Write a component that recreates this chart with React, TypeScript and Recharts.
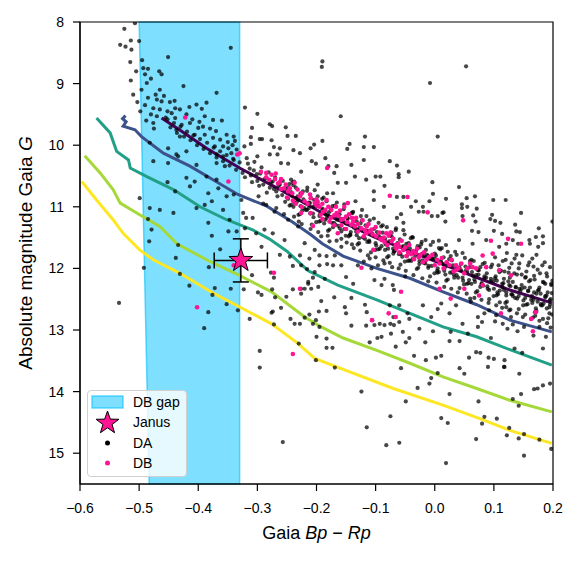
import { ComposedChart, Scatter, Line, XAxis, YAxis, ReferenceArea, ErrorBar } from 'recharts';

const FONT = '"Liberation Sans", Arial, sans-serif';

const xTicks = [-0.6, -0.5, -0.4, -0.3, -0.2, -0.1, 0.0, 0.1, 0.2];
const yTicks = [8, 9, 10, 11, 12, 13, 14, 15];

// DB gap region (colour limits at top and bottom of the plot)
const gapLeftTop = -0.5;
const gapLeftBottom = -0.483;
const gapRight = -0.33;

// cooling tracks [Bp-Rp, G]
const trackPurple = [[-0.462, 9.56], [-0.43, 9.76], [-0.386, 10.05], [-0.33, 10.37], [-0.26, 10.73], [-0.194, 11.08], [-0.1, 11.5], [-0.03, 11.77], [0.031, 12.0], [0.08, 12.18], [0.127, 12.35], [0.198, 12.56]];
const trackBlue = [[-0.523, 9.52], [-0.528, 9.57], [-0.522, 9.62], [-0.527, 9.69], [-0.507, 9.75], [-0.496, 9.86], [-0.459, 10.13], [-0.414, 10.34], [-0.375, 10.56], [-0.333, 10.8], [-0.284, 10.99], [-0.24, 11.25], [-0.21, 11.45], [-0.19, 11.6], [-0.155, 11.8], [-0.098, 12.0], [-0.042, 12.16], [0.014, 12.38], [0.071, 12.59], [0.127, 12.84], [0.198, 13.03]];
const trackTeal = [[-0.572, 9.56], [-0.549, 9.8], [-0.538, 10.1], [-0.518, 10.24], [-0.515, 10.37], [-0.487, 10.51], [-0.442, 10.72], [-0.397, 11.0], [-0.352, 11.21], [-0.307, 11.38], [-0.28, 11.52], [-0.25, 11.72], [-0.214, 12.04], [-0.164, 12.27], [-0.098, 12.51], [-0.042, 12.73], [0.014, 12.95], [0.071, 13.11], [0.127, 13.32], [0.198, 13.57]];
const trackLime = [[-0.592, 10.17], [-0.566, 10.45], [-0.544, 10.72], [-0.532, 10.94], [-0.504, 11.1], [-0.465, 11.32], [-0.436, 11.6], [-0.386, 11.86], [-0.333, 12.1], [-0.276, 12.38], [-0.22, 12.79], [-0.192, 12.95], [-0.155, 13.13], [-0.098, 13.33], [-0.042, 13.54], [0.014, 13.76], [0.071, 13.95], [0.127, 14.14], [0.198, 14.33]];
const trackYellow = [[-0.597, 10.59], [-0.572, 10.89], [-0.544, 11.21], [-0.527, 11.43], [-0.499, 11.7], [-0.476, 11.86], [-0.431, 12.08], [-0.375, 12.4], [-0.329, 12.63], [-0.276, 12.9], [-0.231, 13.22], [-0.203, 13.46], [-0.166, 13.6], [-0.07, 13.95], [0.014, 14.22], [0.082, 14.46], [0.127, 14.63], [0.198, 14.84]];

const daPoints = [
  [-0.525, 8.11], [-0.507, 8.02], [-0.514, 8.3], [-0.532, 8.37], [-0.523, 8.4], [-0.513, 8.45], [-0.5, 8.31], [-0.515, 8.65], [-0.495, 8.62], [-0.493, 8.75], [-0.485, 8.76], [-0.505, 8.8], [-0.49, 8.85], [-0.48, 8.92], [-0.487, 8.99], [-0.514, 8.95], [-0.466, 8.8], [-0.462, 8.85], [-0.451, 8.57], [-0.496, 9.1], [-0.425, 9.04], [-0.345, 8.42], [-0.51, 9.18], [-0.485, 9.23], [-0.465, 9.1], [-0.47, 9.26], [-0.462, 9.29], [-0.448, 9.3], [-0.476, 9.4], [-0.465, 9.42], [-0.452, 9.45], [-0.439, 9.4], [-0.431, 9.42], [-0.47, 9.53], [-0.403, 9.34], [-0.386, 9.31], [-0.394, 9.41], [-0.369, 9.15], [-0.476, 9.64], [-0.475, 9.73], [-0.439, 9.56], [-0.428, 9.67], [-0.437, 9.75], [-0.414, 9.64], [-0.4, 9.72], [-0.389, 9.53], [-0.375, 9.59], [-0.431, 9.86], [-0.406, 9.83], [-0.389, 9.83], [-0.375, 9.88], [-0.363, 9.91], [-0.352, 9.83], [-0.34, 9.86], [-0.372, 10.02], [-0.358, 10.02], [-0.349, 10.05], [-0.335, 10.07], [-0.369, 10.15], [-0.358, 10.18], [-0.344, 10.13], [-0.34, 10.24], [-0.369, 10.29], [-0.355, 10.34], [-0.482, 9.96], [-0.451, 10.05], [-0.437, 10.15], [-0.42, 10.1], [-0.434, 10.18], [-0.403, 10.32], [-0.476, 10.26], [-0.451, 10.29], [-0.42, 10.53], [-0.406, 10.59], [-0.414, 10.67], [-0.386, 10.51], [-0.369, 10.56], [-0.452, 10.6], [-0.439, 10.75], [-0.383, 10.78], [-0.366, 10.7], [-0.352, 10.83], [-0.34, 10.8], [-0.499, 10.86], [-0.403, 11.02], [-0.389, 10.97], [-0.377, 10.91], [-0.482, 11.02], [-0.465, 11.05], [-0.442, 11.1], [-0.358, 11.05], [-0.485, 11.2], [-0.383, 11.26], [-0.347, 11.21], [-0.479, 11.37], [-0.377, 11.47], [-0.349, 11.4], [-0.335, 11.4], [-0.483, 11.56], [-0.434, 11.62], [-0.363, 11.69],
  [-0.49, 9.35], [-0.48, 9.5], [-0.472, 9.18], [-0.458, 9.2], [-0.455, 9.55], [-0.445, 9.48], [-0.44, 9.28], [-0.42, 9.5], [-0.415, 9.38], [-0.41, 9.58], [-0.398, 9.62], [-0.392, 9.7], [-0.38, 9.73], [-0.37, 9.77], [-0.36, 9.6], [-0.35, 9.95], [-0.342, 10.0], [-0.338, 9.93], [-0.498, 9.45], [-0.503, 9.3], [-0.488, 9.6],
  [-0.438, 11.83], [-0.492, 11.99], [-0.382, 11.98], [-0.431, 12.09], [-0.415, 12.28], [-0.372, 12.32], [-0.345, 12.33], [-0.534, 12.56], [-0.376, 12.43], [-0.352, 12.58], [-0.383, 12.71], [-0.39, 12.97],
  [-0.19, 8.64], [-0.191, 8.73], [-0.321, 9.39], [-0.159, 9.53], [-0.3, 9.49], [-0.309, 9.72], [-0.279, 9.66], [-0.275, 9.69], [-0.252, 9.71], [-0.311, 9.87], [-0.296, 9.9], [-0.292, 9.9], [-0.276, 9.92], [-0.249, 9.85], [-0.235, 9.85], [-0.19, 9.93], [-0.118, 9.86], [-0.311, 9.98], [-0.322, 10.02], [-0.272, 10.03], [-0.262, 10.05], [-0.239, 10.08], [-0.21, 10.05], [-0.204, 9.99], [-0.148, 10.06], [-0.144, 9.98], [-0.12, 10.03], [-0.103, 10.03], [-0.3, 10.18], [-0.279, 10.15], [-0.266, 10.15], [-0.228, 10.13], [-0.185, 10.21], [-0.208, 10.26], [-0.201, 10.3], [-0.18, 10.34], [-0.166, 10.34], [-0.141, 10.32], [-0.12, 10.24], [-0.076, 10.26], [-0.248, 10.3], [-0.26, 10.29], [-0.226, 10.43], [-0.17, 10.45], [-0.1, 10.51], [-0.092, 10.51], [-0.135, 10.51], [-0.198, 10.64], [-0.164, 10.61], [-0.15, 10.61], [-0.116, 10.56], [-0.085, 10.66], [-0.239, 10.65], [-0.182, 10.78], [-0.172, 10.78], [-0.103, 10.75], [-0.103, 10.89], [-0.134, 10.91], [-0.123, 11.05], [-0.086, 11.0], [-0.243, 10.56], [-0.204, 10.89],
  [-0.327, 10.89], [-0.324, 11.1], [-0.319, 11.18], [-0.308, 11.18], [-0.321, 11.35], [-0.302, 11.43], [-0.288, 11.37], [-0.274, 11.43], [-0.254, 11.54], [-0.231, 11.32], [-0.248, 11.21], [-0.285, 10.97], [-0.271, 11.08], [-0.298, 10.83], [-0.293, 11.65], [-0.22, 11.59], [-0.203, 11.7], [-0.192, 11.48], [-0.178, 11.56], [-0.158, 11.65],
  [0.053, 8.72], [-0.008, 8.99], [0.005, 9.86], [-0.064, 10.33], [-0.061, 10.47], [-0.061, 10.52], [-0.044, 10.43], [-0.004, 10.6], [0.041, 10.68], [-0.003, 10.79], [-0.064, 10.84], [-0.053, 10.84], [-0.032, 10.91], [-0.04, 11.0], [-0.02, 11.0], [-0.009, 10.91], [-0.027, 11.08], [-0.019, 11.08], [-0.005, 11.15], [0.005, 11.15], [0.013, 11.1], [0.018, 11.24], [-0.057, 11.12], [-0.064, 11.18], [-0.053, 11.26], [0.046, 10.96], [0.046, 11.02], [0.054, 10.86], [0.055, 11.0], [0.068, 10.83], [0.071, 11.03], [0.065, 11.14], [0.069, 11.24], [0.047, 11.15], [0.063, 11.39], [0.074, 11.41], [0.099, 10.89], [0.12, 10.89], [0.097, 11.13], [0.094, 11.2], [0.102, 11.23], [0.111, 11.26], [0.1, 11.39], [0.114, 11.44], [0.136, 11.29], [0.146, 11.1], [0.138, 11.4], [0.144, 11.41], [0.176, 11.35], [0.171, 11.49], [0.183, 11.48], [0.132, 11.54], [0.141, 11.6], [0.16, 11.54], [0.161, 11.6], [0.175, 11.65], [0.183, 11.59], [0.087, 11.54], [0.121, 11.6], [0.109, 11.65], [0.041, 11.54], [0.064, 11.6], [0.007, 11.55], [0.019, 11.62], [0.199, 11.24], [0.019, 10.87], [0.015, 11.09],
  [-0.333, 12.68], [-0.323, 12.34], [-0.309, 12.11], [-0.299, 12.39], [-0.293, 12.43], [-0.313, 12.82], [-0.277, 12.07], [-0.272, 12.15], [-0.275, 12.34], [-0.27, 12.47], [-0.274, 12.7], [-0.276, 12.72], [-0.272, 12.91], [-0.26, 12.64], [-0.296, 13.34], [-0.296, 13.61], [-0.257, 14.82], [-0.24, 12.34], [-0.244, 12.82], [-0.237, 12.9], [-0.228, 12.9], [-0.226, 12.33], [-0.22, 12.33], [-0.226, 12.41], [-0.214, 12.25], [-0.209, 12.33], [-0.212, 12.75], [-0.22, 12.8], [-0.206, 12.9], [-0.201, 12.84], [-0.195, 12.95], [-0.23, 13.22], [-0.2, 13.11], [-0.201, 13.49], [-0.183, 13.14], [-0.183, 13.29], [-0.173, 13.29], [-0.169, 13.61], [-0.196, 12.7], [-0.183, 12.69], [-0.17, 12.47], [-0.192, 12.53], [-0.197, 12.3], [-0.206, 12.15], [-0.214, 12.22], [-0.186, 12.17], [-0.172, 11.95], [-0.182, 11.93], [-0.195, 11.95], [-0.203, 12.06], [-0.216, 12.01], [-0.226, 11.95], [-0.24, 11.96], [-0.245, 11.81], [-0.262, 11.78], [-0.228, 11.79], [-0.212, 11.84], [-0.195, 11.79], [-0.183, 11.8], [-0.169, 11.79], [-0.158, 11.95], [-0.15, 12.14], [-0.138, 12.25], [-0.141, 12.48], [-0.152, 12.63], [-0.15, 12.73], [-0.141, 12.93], [-0.118, 12.59], [-0.115, 12.71], [-0.116, 12.93], [-0.11, 13.2], [-0.106, 12.84], [-0.102, 12.92], [-0.093, 12.9], [-0.085, 12.92], [-0.075, 12.9], [-0.069, 12.92], [-0.076, 12.6], [-0.07, 12.79], [-0.09, 13.11], [-0.097, 13.13], [-0.074, 13.06], [-0.124, 14.0], [-0.115, 14.58], [-0.075, 14.4], [-0.082, 14.87], [-0.085, 12.17], [-0.09, 12.27], [-0.102, 12.19], [-0.107, 12.0], [-0.13, 11.95], [-0.12, 11.89], [-0.11, 11.84], [-0.096, 11.95], [-0.085, 11.92], [-0.072, 11.98], [-0.071, 12.27], [-0.069, 12.35], [-0.251, 12.46],
  [-0.06, 14.83], [0.019, 15.16], [0.011, 14.43], [0.022, 14.51], [0.07, 14.77], [0.08, 14.52], [0.084, 14.41], [0.105, 14.44], [0.126, 14.59], [0.122, 14.71], [0.142, 14.76], [0.151, 14.69], [0.151, 15.04], [0.177, 14.78], [0.197, 14.93], [0.074, 14.16], [0.132, 14.12], [0.146, 14.04], [0.168, 13.96], [0.174, 13.95], [0.183, 13.9], [0.195, 13.87], [0.142, 14.23], [0.025, 14.04], [-0.006, 13.78], [-0.009, 13.87], [-0.029, 13.94], [-0.049, 14.16], [0.005, 13.7], [0.042, 13.62], [0.05, 13.71], [0.09, 13.6], [0.118, 13.6], [0.143, 13.71], [-0.057, 13.62], [-0.035, 13.42], [-0.015, 13.49], [0.002, 13.45], [0.011, 13.42], [0.025, 13.18], [0.058, 13.45], [0.07, 13.36], [0.077, 13.37], [0.091, 13.45], [0.1, 13.47], [0.117, 13.6], [0.118, 13.49], [0.135, 13.3], [0.148, 13.37], [0.183, 13.3], [0.188, 13.11], [-0.066, 13.27], [-0.049, 13.2], [-0.043, 13.13], [-0.016, 13.2], [-0.003, 13.02], [0.042, 13.18], [0.027, 13.03], [0.047, 12.9], [0.056, 13.06], [0.073, 12.95], [0.08, 12.87], [0.095, 13.13], [0.115, 12.9], [0.123, 12.98], [0.132, 12.91], [0.102, 12.86], [0.14, 13.02], [0.151, 12.95], [0.167, 13.09], [0.177, 12.95], [-0.06, 12.87], [-0.043, 12.82], [-0.054, 13.03], [-0.026, 12.98], [-0.06, 12.6], [-0.046, 12.73], [-0.02, 12.6], [-0.006, 12.79], [0.005, 12.66], [0.025, 12.73], [0.011, 12.57], [0.036, 12.6], [0.061, 12.54], [0.073, 12.79], [0.084, 12.73], [0.092, 12.68], [0.104, 12.76], [0.121, 12.63], [0.129, 12.79], [0.126, 12.68], [0.149, 12.79], [0.171, 12.65], [0.183, 12.82], [0.194, 12.73],
];

// the crowded DA sequence along the top cooling track
const daBand = [
  [-0.318, 10.21], [-0.313, 10.38], [-0.321, 10.52], [-0.309, 10.6], [-0.305, 10.27], [-0.301, 10.47], [-0.297, 10.66], [-0.293, 10.36], [-0.288, 10.55], [-0.284, 10.77], [-0.281, 10.44], [-0.277, 10.6], [-0.272, 10.71], [-0.27, 10.52], [-0.266, 10.83], [-0.262, 10.64], [-0.257, 10.58], [-0.253, 10.92], [-0.25, 10.75], [-0.246, 10.63], [-0.242, 10.82], [-0.239, 11.0], [-0.235, 10.69], [-0.231, 10.88], [-0.227, 10.78], [-0.224, 11.06], [-0.22, 10.93], [-0.216, 10.74], [-0.213, 11.02], [-0.209, 10.86], [-0.205, 11.17], [-0.202, 10.97], [-0.198, 10.83], [-0.194, 11.12], [-0.19, 11.03], [-0.187, 11.27], [-0.183, 10.91], [-0.18, 11.15], [-0.176, 11.06], [-0.172, 11.33], [-0.169, 10.98], [-0.165, 11.21], [-0.161, 11.12], [-0.158, 11.4], [-0.154, 11.04], [-0.15, 11.27], [-0.147, 11.19], [-0.143, 11.45], [-0.139, 11.1], [-0.136, 11.34], [-0.132, 11.24], [-0.128, 11.51], [-0.125, 11.15], [-0.121, 11.38], [-0.117, 11.3], [-0.114, 11.57], [-0.11, 11.22], [-0.106, 11.45], [-0.103, 11.36], [-0.099, 11.63], [-0.095, 11.26], [-0.092, 11.5], [-0.088, 11.42], [-0.084, 11.7], [-0.081, 11.33], [-0.077, 11.56], [-0.073, 11.48], [-0.07, 11.76], [-0.066, 11.38], [-0.062, 11.61], [-0.059, 11.53], [-0.055, 11.81], [-0.051, 11.45], [-0.048, 11.66], [-0.044, 11.59], [-0.04, 11.88], [-0.037, 11.5], [-0.033, 11.73], [-0.029, 11.64], [-0.026, 11.93], [-0.022, 11.57], [-0.018, 11.79], [-0.015, 11.7], [-0.011, 11.99], [-0.007, 11.62], [-0.004, 11.84], [0.0, 11.76], [0.004, 12.04], [0.007, 11.67], [0.011, 11.9], [0.015, 11.82], [0.018, 12.1], [0.022, 11.73], [0.026, 11.96], [0.029, 11.87], [0.033, 12.15], [0.037, 11.78], [0.04, 12.01], [0.044, 11.93], [0.048, 12.2], [0.051, 11.83], [0.055, 12.06], [0.059, 11.98], [0.062, 12.25], [0.066, 11.88], [0.07, 12.11], [0.073, 12.03], [0.077, 12.3], [0.081, 11.93], [0.084, 12.16], [0.088, 12.08], [0.092, 12.35], [0.095, 11.98], [0.099, 12.21], [0.103, 12.13], [0.106, 12.39], [0.11, 12.03], [0.114, 12.25], [0.117, 12.17], [0.121, 12.44], [0.125, 12.07], [0.128, 12.29], [0.132, 12.22], [0.136, 12.48], [0.139, 12.1], [0.143, 12.33], [0.147, 12.27], [0.15, 12.52], [0.154, 12.14], [0.158, 12.37], [0.161, 12.31], [0.165, 12.56], [0.169, 12.18], [0.172, 12.41], [0.176, 12.35], [0.18, 12.6], [0.183, 12.22], [0.187, 12.45], [0.191, 12.39], [0.194, 12.63], [0.197, 12.27], [0.196, 12.5], [0.189, 12.08], [0.174, 12.02], [0.158, 11.95], [0.143, 11.92], [0.186, 11.9], [0.165, 11.84], [0.12, 11.86], [0.138, 11.78],
  [-0.452, 9.58], [-0.447, 9.71], [-0.441, 9.64], [-0.436, 9.8], [-0.43, 9.7], [-0.424, 9.86], [-0.419, 9.78], [-0.413, 9.92], [-0.408, 9.84], [-0.402, 10.0], [-0.397, 9.9], [-0.391, 10.06], [-0.385, 9.96], [-0.38, 10.13], [-0.374, 10.04], [-0.369, 10.2], [-0.363, 10.1], [-0.358, 10.26], [-0.352, 10.16], [-0.347, 10.33], [-0.341, 10.22], [-0.336, 10.4], [-0.33, 10.28], [-0.325, 10.45],
  [-0.316, 10.3], [-0.311, 10.49], [-0.306, 10.41], [-0.3, 10.58], [-0.295, 10.46], [-0.29, 10.64], [-0.285, 10.53], [-0.279, 10.69], [-0.274, 10.59], [-0.268, 10.75], [-0.264, 10.66], [-0.258, 10.81], [-0.253, 10.7], [-0.248, 10.87], [-0.243, 10.76], [-0.237, 10.94], [-0.232, 10.83], [-0.227, 10.99], [-0.222, 10.88], [-0.216, 11.05], [-0.211, 10.94], [-0.206, 11.11], [-0.2, 10.99], [-0.195, 11.15], [-0.19, 11.05], [-0.185, 11.21], [-0.179, 11.09], [-0.174, 11.26], [-0.169, 11.15], [-0.163, 11.31], [-0.158, 11.2], [-0.153, 11.36], [-0.148, 11.24], [-0.142, 11.41], [-0.137, 11.3], [-0.132, 11.46], [-0.127, 11.34], [-0.121, 11.5], [-0.116, 11.39], [-0.111, 11.55], [-0.106, 11.43], [-0.1, 11.59], [-0.095, 11.47], [-0.09, 11.64], [-0.084, 11.52], [-0.079, 11.68], [-0.074, 11.56], [-0.069, 11.72], [-0.063, 11.6], [-0.058, 11.76], [-0.053, 11.64], [-0.047, 11.8], [-0.042, 11.68], [-0.037, 11.84], [-0.032, 11.72], [-0.026, 11.88], [-0.021, 11.76], [-0.016, 11.92], [-0.011, 11.8], [-0.005, 11.96], [0.0, 11.84], [0.005, 12.0], [0.01, 11.88], [0.016, 12.04], [0.021, 11.92], [0.026, 12.07], [0.031, 11.95], [0.037, 12.11], [0.042, 11.99], [0.047, 12.15], [0.053, 12.03], [0.058, 12.19], [0.063, 12.06], [0.068, 12.22], [0.074, 12.1], [0.079, 12.26], [0.084, 12.13], [0.089, 12.29], [0.095, 12.17], [0.1, 12.33], [0.105, 12.2], [0.11, 12.36], [0.116, 12.24], [0.121, 12.39], [0.126, 12.27], [0.131, 12.42], [0.137, 12.3], [0.142, 12.45], [0.147, 12.33], [0.153, 12.48], [0.158, 12.36], [0.163, 12.51], [0.168, 12.39], [0.174, 12.54], [0.179, 12.41], [0.184, 12.57], [0.189, 12.44], [0.195, 12.59], [0.198, 12.4],
  [0.102, 11.82], [0.108, 11.95], [0.115, 11.88], [0.122, 11.75], [0.13, 11.92], [0.135, 11.84], [0.142, 12.0], [0.148, 11.79], [0.155, 12.05], [0.16, 11.9], [0.167, 11.97], [0.172, 11.78], [0.178, 12.08], [0.182, 11.95], [0.19, 12.13], [0.195, 11.98], [0.199, 12.2], [0.187, 12.25], [0.153, 12.15], [0.118, 12.05], [0.126, 11.99], [0.168, 12.12],
  [-0.29, 10.95], [-0.268, 11.02], [-0.255, 11.12], [-0.238, 11.16], [-0.225, 11.28], [-0.21, 11.36], [-0.197, 11.41], [-0.181, 11.47], [-0.166, 11.55], [-0.149, 11.58], [-0.137, 11.67], [-0.126, 11.71], [-0.113, 11.79], [-0.1, 11.82], [-0.087, 11.87], [-0.076, 11.91], [-0.061, 12.0], [-0.049, 12.04], [-0.036, 12.11], [-0.021, 12.16], [-0.011, 12.21], [0.003, 12.23], [0.016, 12.3], [0.028, 12.33], [0.039, 12.39], [0.054, 12.41], [0.067, 12.48], [0.079, 12.51], [0.091, 12.56], [0.104, 12.6], [0.114, 12.64], [0.128, 12.67], [0.139, 12.73], [0.153, 12.75], [0.166, 12.8], [0.177, 12.85], [0.19, 12.89], [0.196, 12.96], [-0.05, 12.13], [0.06, 12.49], [0.11, 12.55], [0.17, 12.77], [-0.14, 11.61], [-0.23, 11.24],
];

// more of the same sequence, where the reference is almost solid black
const daBandCore = [
  [-0.248, 10.69], [-0.243, 10.97], [-0.238, 10.59], [-0.233, 10.92], [-0.228, 11.12], [-0.223, 10.75], [-0.218, 11.05], [-0.213, 10.93], [-0.208, 11.29], [-0.203, 10.73], [-0.198, 10.96], [-0.193, 11.23], [-0.188, 10.85], [-0.183, 11.18], [-0.178, 11.37], [-0.173, 10.99], [-0.168, 11.29], [-0.163, 11.17], [-0.158, 11.52], [-0.153, 10.96], [-0.148, 11.18], [-0.143, 11.46], [-0.138, 11.08], [-0.133, 11.4], [-0.128, 11.59], [-0.123, 11.22], [-0.118, 11.52], [-0.113, 11.39], [-0.108, 11.74], [-0.103, 11.19], [-0.098, 11.41], [-0.093, 11.68], [-0.088, 11.3], [-0.083, 11.61], [-0.078, 11.8], [-0.073, 11.42], [-0.068, 11.72], [-0.063, 11.59], [-0.058, 11.94], [-0.053, 11.38], [-0.048, 11.6], [-0.043, 11.87], [-0.038, 11.49], [-0.033, 11.8], [-0.028, 11.99], [-0.023, 11.61], [-0.018, 11.91], [-0.013, 11.78], [-0.008, 12.13], [-0.003, 11.57], [0.002, 11.79], [0.007, 12.06], [0.012, 11.67], [0.017, 11.99], [0.022, 12.18], [0.027, 11.8], [0.032, 12.1], [0.037, 11.97], [0.042, 12.32], [0.047, 11.75], [0.052, 11.97], [0.057, 12.24], [0.062, 11.86], [0.067, 12.18], [0.072, 12.37], [0.077, 11.98], [0.082, 12.28], [0.087, 12.15], [0.092, 12.5], [0.097, 11.94], [0.102, 12.16], [0.107, 12.42], [0.112, 12.04], [0.117, 12.35], [0.122, 12.54], [0.127, 12.15], [0.132, 12.45], [0.137, 12.31], [0.142, 12.66], [0.147, 12.1], [0.152, 12.31], [0.157, 12.58], [0.162, 12.19], [0.167, 12.51], [0.172, 12.69], [0.177, 12.31], [0.182, 12.6], [0.187, 12.47], [0.192, 12.81], [0.197, 12.25],
  [-0.2455, 10.98], [-0.2405, 10.61], [-0.2355, 10.86], [-0.2305, 11.13], [-0.2255, 10.79], [-0.2205, 11.02], [-0.2155, 10.69], [-0.2105, 11.11], [-0.2055, 11.0], [-0.2005, 11.25], [-0.1955, 11.24], [-0.1905, 10.87], [-0.1855, 11.12], [-0.1805, 11.39], [-0.1755, 11.04], [-0.1705, 11.26], [-0.1655, 10.93], [-0.1605, 11.35], [-0.1555, 11.23], [-0.1505, 11.47], [-0.1455, 11.48], [-0.1405, 11.1], [-0.1355, 11.34], [-0.1305, 11.61], [-0.1255, 11.27], [-0.1205, 11.49], [-0.1155, 11.15], [-0.1105, 11.57], [-0.1055, 11.46], [-0.1005, 11.7], [-0.0955, 11.69], [-0.0905, 11.32], [-0.0855, 11.55], [-0.0805, 11.82], [-0.0755, 11.47], [-0.0705, 11.68], [-0.0655, 11.35], [-0.0605, 11.77], [-0.0555, 11.65], [-0.0505, 11.89], [-0.0455, 11.88], [-0.0405, 11.51], [-0.0355, 11.75], [-0.0305, 12.01], [-0.0255, 11.66], [-0.0205, 11.87], [-0.0155, 11.54], [-0.0105, 11.96], [-0.0055, 11.84], [-0.0005, 12.08], [0.0045, 12.07], [0.0095, 11.69], [0.0145, 11.93], [0.0195, 12.2], [0.0245, 11.85], [0.0295, 12.06], [0.0345, 11.73], [0.0395, 12.15], [0.0445, 12.03], [0.0495, 12.26], [0.0545, 12.25], [0.0595, 11.88], [0.0645, 12.12], [0.0695, 12.39], [0.0745, 12.03], [0.0795, 12.24], [0.0845, 11.91], [0.0895, 12.33], [0.0945, 12.21], [0.0995, 12.45], [0.1045, 12.44], [0.1095, 12.06], [0.1145, 12.3], [0.1195, 12.56], [0.1245, 12.21], [0.1295, 12.42], [0.1345, 12.08], [0.1395, 12.49], [0.1445, 12.37], [0.1495, 12.6], [0.1545, 12.59], [0.1595, 12.21], [0.1645, 12.45], [0.1695, 12.71], [0.1745, 12.36], [0.1795, 12.58], [0.1845, 12.23], [0.1895, 12.65], [0.1945, 12.52], [0.1985, 12.75],
];

const dbPoints = [
  [-0.422, 9.55], [-0.349, 10.59], [-0.334, 10.15], [-0.402, 12.63], [-0.34, 11.95], [-0.272, 12.07], [-0.228, 12.33], [-0.24, 13.39], [-0.106, 12.84], [-0.078, 12.73], [-0.124, 11.99], [-0.182, 10.37], [-0.076, 10.82], [-0.046, 10.84], [-0.012, 11.09], [0.048, 11.22], [0.095, 11.55], [0.124, 11.52], [0.146, 11.6], [-0.057, 12.38], [0.112, 12.73], [0.163, 12.82], [0.166, 13.02], [0.171, 12.71], [-0.066, 12.79], [0.075, 12.44], [0.027, 12.49], [0.129, 12.11], [0.109, 12.03], [0.081, 12.27], [0.05, 12.33], [0.008, 12.33], [-0.33, 10.13],
  [-0.294, 10.43], [-0.276, 10.48], [-0.269, 10.46], [-0.26, 10.55], [-0.252, 10.64], [-0.245, 10.7], [-0.237, 10.61], [-0.241, 10.78], [-0.228, 10.83], [-0.22, 10.91], [-0.211, 10.8], [-0.203, 10.94], [-0.195, 11.0], [-0.189, 11.08], [-0.183, 10.89], [-0.175, 11.05], [-0.166, 11.1], [-0.158, 11.21], [-0.15, 11.16], [-0.153, 11.0], [-0.147, 10.94], [-0.141, 11.29], [-0.133, 11.18], [-0.124, 11.35], [-0.116, 11.43], [-0.107, 11.37], [-0.099, 11.48], [-0.09, 11.54], [-0.082, 11.43], [-0.073, 11.56], [-0.226, 11.1], [-0.206, 11.31], [-0.178, 11.24], [-0.164, 11.43], [-0.104, 11.7], [-0.26, 10.71],
  [-0.21, 10.86], [-0.2, 10.98], [-0.19, 10.95], [-0.18, 11.0], [-0.17, 11.14], [-0.16, 11.06], [-0.155, 11.2], [-0.145, 11.12], [-0.138, 11.24], [-0.13, 11.28], [-0.122, 11.22], [-0.115, 11.32], [-0.11, 11.4], [-0.1, 11.33], [-0.094, 11.42], [-0.086, 11.5], [-0.078, 11.47], [-0.07, 11.52], [-0.062, 11.6], [-0.056, 11.55], [-0.05, 11.66], [-0.043, 11.62], [-0.037, 11.72], [-0.03, 11.68], [-0.024, 11.78], [-0.018, 11.74], [-0.01, 11.82], [-0.004, 11.78], [0.004, 11.86], [0.012, 11.83], [0.02, 11.9], [0.028, 11.86], [0.036, 11.95], [0.045, 11.92], [-0.06, 11.74], [-0.048, 11.8], [-0.035, 11.85], [-0.02, 11.9], [-0.065, 11.68], [-0.045, 11.74], [0.0, 11.95], [0.015, 12.0], [-0.15, 11.36], [-0.13, 11.4], [-0.17, 11.3], [-0.19, 11.2], [-0.21, 11.1], [-0.235, 10.95], [-0.25, 10.85], [-0.265, 10.62], [-0.28, 10.56], [-0.285, 10.45], [-0.24, 10.9], [-0.12, 11.48], [-0.08, 11.62], [0.032, 12.05], [0.055, 12.0], [0.07, 12.0], [0.064, 11.98], [0.087, 11.98], [0.098, 11.76], [0.081, 11.79], [0.036, 12.03],
  [-0.27, 10.55], [-0.262, 10.6], [-0.255, 10.7], [-0.248, 10.75], [-0.232, 10.72], [-0.225, 10.78], [-0.215, 10.95], [-0.198, 10.92], [-0.185, 11.05], [-0.176, 11.18], [-0.163, 11.15], [-0.148, 11.25], [-0.135, 11.32], [-0.118, 11.38], [-0.105, 11.45], [-0.092, 11.52], [-0.085, 11.57], [-0.066, 11.62], [-0.053, 11.7], [-0.04, 11.77], [-0.027, 11.82], [-0.014, 11.86], [0.008, 11.92], [0.025, 11.95], [0.04, 12.0], [-0.2, 10.88], [-0.167, 11.0], [-0.14, 11.18], [-0.112, 11.28], [-0.075, 11.42], [-0.06, 11.65], [-0.032, 11.75], [0.05, 12.08], [0.06, 11.92], [-0.285, 10.52], [-0.225, 11.0], [-0.193, 11.13], [-0.158, 11.3],
];

const janus = [{ x: -0.328, y: 11.87, ex: 0.045, ey: 0.35 }];

const toXY = (arr: number[][]) => arr.map(([x, y]) => ({ x, y }));

const starPoints = (cx: number, cy: number, R: number, r: number) => {
  const pts: string[] = [];
  for (let i = 0; i < 10; i++) {
    const a = -Math.PI / 2 + (i * Math.PI) / 5;
    const rad = i % 2 === 0 ? R : r;
    pts.push(`${cx + rad * Math.cos(a)},${cy + rad * Math.sin(a)}`);
  }
  return pts.join(' ');
};

const DaDot = (p: any) => <circle cx={p.cx} cy={p.cy} r={2.1} fill="#000" fillOpacity={0.72} />;
const DbDot = (p: any) => <circle cx={p.cx} cy={p.cy} r={2.3} fill="#ff1493" />;
const StarShape = (p: any) => (
  <polygon points={starPoints(p.cx, p.cy, 12.5, 5)} fill="#ff1493" stroke="#000" strokeWidth={1} />
);

const GapShape = (p: any) => {
  const { x, y, width, height } = p;
  const slant = (width * (gapLeftBottom - gapLeftTop)) / (gapRight - gapLeftTop);
  return (
    <polygon
      points={`${x},${y} ${x + width},${y} ${x + width},${y + height} ${x + slant},${y + height}`}
      fill="#00bfff"
      fillOpacity={0.5}
      stroke="#00bfff"
      strokeOpacity={0.6}
      strokeWidth={1.5}
    />
  );
};

const fmt = (v: number) => (v < 0 ? '\u2212' + Math.abs(v).toFixed(1) : v.toFixed(1));

const XLabel = (props: any) => {
  const { x, y, width } = props.viewBox;
  return (
    <text x={x + width / 2} y={y + 55} textAnchor="middle" fontSize={18} fontFamily={FONT} fill="#000">
      Gaia <tspan fontStyle="italic">Bp</tspan> {'\u2212'} <tspan fontStyle="italic">Rp</tspan>
    </text>
  );
};

const YLabel = (props: any) => {
  const { y, height } = props.viewBox;
  const cx = 17;
  const cy = y + height / 2;
  return (
    <text x={cx} y={cy} transform={`rotate(-90 ${cx} ${cy})`} textAnchor="middle" dominantBaseline="central" fontSize={19} fontFamily={FONT} fill="#000">
      Absolute magnitude Gaia <tspan fontStyle="italic">G</tspan>
    </text>
  );
};

const legendRow = (top: number) => ({ position: 'absolute' as const, left: 0, top, width: 100, height: 20, lineHeight: '20px' });

const lineProps = { type: 'linear' as const, strokeWidth: 3, dot: false, activeDot: false, isAnimationActive: false, zIndex: 400 };

export default function App() {
  return (
    <div style={{ position: 'relative', width: 573, height: 553, fontFamily: FONT }}>
      <ComposedChart width={573} height={553} margin={{ top: 14, right: 28, bottom: 17, left: 0 }}>
        <XAxis
          type="number"
          dataKey="x"
          domain={[-0.6, 0.2]}
          ticks={xTicks}
          interval={0}
          allowDataOverflow
          tickFormatter={fmt}
          height={60}
          tickSize={7}
          tickMargin={12}
          axisLine={{ stroke: '#000', strokeWidth: 1.2 }}
          tickLine={{ stroke: '#000', strokeWidth: 1.2 }}
          tick={{ fill: '#000', fontSize: 14, fontFamily: FONT }}
          label={<XLabel />}
        />
        <YAxis
          type="number"
          dataKey="y"
          domain={[8, 15.5]}
          reversed
          ticks={yTicks}
          interval={0}
          allowDataOverflow
          width={72}
          tickSize={7}
          tickMargin={9}
          axisLine={{ stroke: '#000', strokeWidth: 1.2 }}
          tickLine={{ stroke: '#000', strokeWidth: 1.2 }}
          tick={{ fill: '#000', fontSize: 14, fontFamily: FONT }}
          label={<YLabel />}
        />
        <ReferenceArea x1={gapLeftTop} x2={gapRight} y1={8} y2={15.5} shape={<GapShape />} ifOverflow="visible" zIndex={100} />
        <Line data={toXY(trackPurple)} dataKey="y" stroke="#440154" {...lineProps} />
        <Line data={toXY(trackBlue)} dataKey="y" stroke="#3b528b" {...lineProps} />
        <Line data={toXY(trackTeal)} dataKey="y" stroke="#21a087" {...lineProps} />
        <Line data={toXY(trackLime)} dataKey="y" stroke="#a5d93a" {...lineProps} />
        <Line data={toXY(trackYellow)} dataKey="y" stroke="#fde725" {...lineProps} />
        <Scatter data={toXY(daPoints)} shape={DaDot} isAnimationActive={false} zIndex={600} />
        <Scatter data={toXY(daBand)} shape={DaDot} isAnimationActive={false} zIndex={600} />
        <Scatter data={toXY(daBandCore)} shape={DaDot} isAnimationActive={false} zIndex={600} />
        <Scatter data={toXY(dbPoints)} shape={DbDot} isAnimationActive={false} zIndex={650} />
        <Scatter data={janus} shape={() => <g />} isAnimationActive={false} zIndex={700}>
          <ErrorBar dataKey="ex" direction="x" width={8} stroke="#000" strokeWidth={1.5} isAnimationActive={false} />
          <ErrorBar dataKey="ey" direction="y" width={8} stroke="#000" strokeWidth={1.5} isAnimationActive={false} />
        </Scatter>
        <Scatter data={janus} shape={StarShape} isAnimationActive={false} zIndex={750} />
        <ReferenceArea x1={-0.6} x2={0.2} y1={8} y2={15.5} fill="none" stroke="#000" strokeWidth={1.2} ifOverflow="visible" zIndex={800} />
      </ComposedChart>
      <div
        style={{
          position: 'absolute',
          left: 79,
          top: 382,
          width: 100,
          height: 87,
          background: 'rgba(255,255,255,0.8)',
          border: '1px solid #d0d0d0',
          borderRadius: 4,
          boxSizing: 'border-box',
          fontSize: 14,
          color: '#000',
        }}
      >
        <div style={legendRow(1)}>
          <svg width={40} height={20} style={{ position: 'absolute', left: 0, top: 0 }}>
            <rect x={4} y={4} width={31} height={12} fill="#00bfff" fillOpacity={0.5} stroke="#00bfff" strokeOpacity={0.6} strokeWidth={1.5} />
          </svg>
          <span style={{ position: 'absolute', left: 45 }}>DB gap</span>
        </div>
        <div style={legendRow(21)}>
          <svg width={40} height={28} style={{ position: 'absolute', left: 0, top: -4 }}>
            <polygon points={starPoints(19.5, 15, 12, 4.8)} fill="#ff1493" stroke="#000" strokeWidth={1} />
          </svg>
          <span style={{ position: 'absolute', left: 45 }}>Janus</span>
        </div>
        <div style={legendRow(42)}>
          <svg width={40} height={20} style={{ position: 'absolute', left: 0, top: 0 }}>
            <circle cx={19.5} cy={10} r={2.5} fill="#000" />
          </svg>
          <span style={{ position: 'absolute', left: 45 }}>DA</span>
        </div>
        <div style={legendRow(62)}>
          <svg width={40} height={20} style={{ position: 'absolute', left: 0, top: 0 }}>
            <circle cx={19.5} cy={10} r={2.5} fill="#ff1493" />
          </svg>
          <span style={{ position: 'absolute', left: 45 }}>DB</span>
        </div>
      </div>
    </div>
  );
}
